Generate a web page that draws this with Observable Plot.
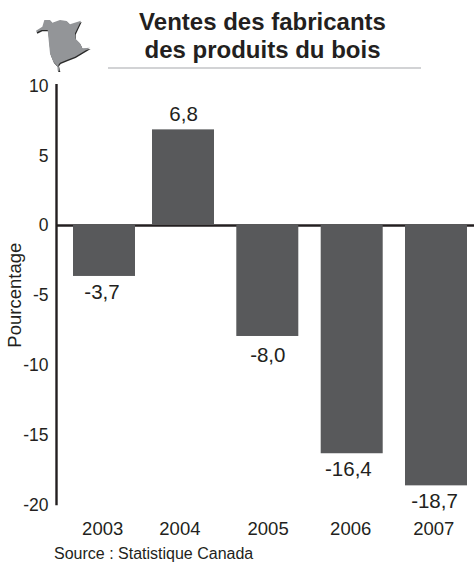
<!DOCTYPE html>
<html><head><meta charset="utf-8">
<script src="https://cdn.jsdelivr.net/npm/d3@7"></script>
<script src="https://cdn.jsdelivr.net/npm/@observablehq/plot@0.6"></script>
<style>
html,body{margin:0;padding:0;background:#fff;font-family:"Liberation Sans",Arial,sans-serif;color:#231f20}
#wrap{position:relative;width:474px;height:563px;overflow:hidden}
#title{position:absolute;left:108px;top:8px;width:309px;padding-right:4px;text-align:center;font-weight:bold;font-size:24px;line-height:28px;height:58.500px;border-bottom:2.4px solid #d2d3d5}
#icon{position:absolute;left:25px;top:10px}
#source{position:absolute;left:54px;top:545px;font-size:16px;line-height:18px}
#chart{position:absolute;left:0;top:0}
</style></head><body>
<div id="wrap">
<div id="chart"></div>
<svg id="icon" width="75" height="70" viewBox="0 0 225 210"><g id="nb"><path d="M33 62L52 50L58 30L75 30L82 38L105 30L125 33L135 43L168 32L150 70L150 85L165 100L172 115L195 113L150 140L125 150L105 158L100 165L104 182L98 182L97 168L85 155L75 130L68 60L50 60L35 67Z" fill="#2b2b2b" transform="translate(2,4)"/><path d="M33 62L52 50L58 30L75 30L82 38L105 30L125 33L135 43L168 32L150 70L150 85L165 100L172 115L195 113L150 140L125 150L105 158L100 165L104 182L98 182L97 168L85 155L75 130L68 60L50 60L35 67Z" fill="#939598"/></g></svg>
<div id="title">Ventes des fabricants<br>des produits du bois</div>
<div id="source">Source : Statistique Canada</div>
</div>
<script>
const years = ["2003","2004","2005","2006","2007"];
const values = [-3.7,6.8,-8.0,-16.4,-18.7];
const yTicks = [10,5,0,-5,-10,-15,-20];
const rows = years.map((year,i)=>({year,value:values[i],label:values[i].toFixed(1).replace(".",",")}));
// hand-tuned nudges: the reference's bars and labels are not evenly spaced
const barNudge = {"2003":0,"2004":-4,"2005":-2.7,"2006":-1.3,"2007":0};
const yearNudge = {"2003":-1.8,"2004":-7.6,"2005":-2.4,"2006":-2.8,"2007":-2.7};
const valueNudge = {"2003":-2.5,"2004":-3.9,"2005":-2.7,"2006":-5.1,"2007":-2};
const valueLift = {"2003":15.5,"2004":-15.5,"2005":19,"2006":15.5,"2007":15.5};
const ink = "#231f20";
const plot = Plot.plot({
  width:474,height:563,
  marginTop:84.7,marginBottom:59.5,marginLeft:56,marginRight:-9.5,
  style:{fontFamily:'"Liberation Sans",Arial,sans-serif',background:"transparent",color:ink},
  x:{domain:years,paddingInner:0.25,paddingOuter:0.197,axis:null},
  y:{domain:[-20,10]},
  marks:[
    Plot.ruleY([0],{stroke:ink,strokeWidth:2.4,dy:0.7}),
    ...rows.map(r=>Plot.barY([r],{x:"year",y:"value",fill:"#58595b",dx:barNudge[r.year]})),
    Plot.frame({anchor:"left",stroke:ink,strokeWidth:2.4}),
    Plot.axisY({ticks:yTicks,tickSize:0,tickPadding:8,tickFormat:d=>String(d),fontSize:17.5,label:null,fill:ink,dy:1}),
    ...rows.flatMap(r=>[
      Plot.text([r],{x:"year",y:"value",text:"label",fontSize:20.5,fill:ink,
        dx:valueNudge[r.year],dy:valueLift[r.year]}),
      Plot.text([r],{x:"year",y:-20,text:"year",fontSize:18.5,fill:ink,dx:yearNudge[r.year],dy:25.5})
    ]),
    Plot.text(["Pourcentage"],{frameAnchor:"left",y:-8.8,rotate:-90,fontSize:18.5,dx:-41,fill:ink})
  ]
});
document.getElementById("chart").append(plot);
</script>
</body></html>
